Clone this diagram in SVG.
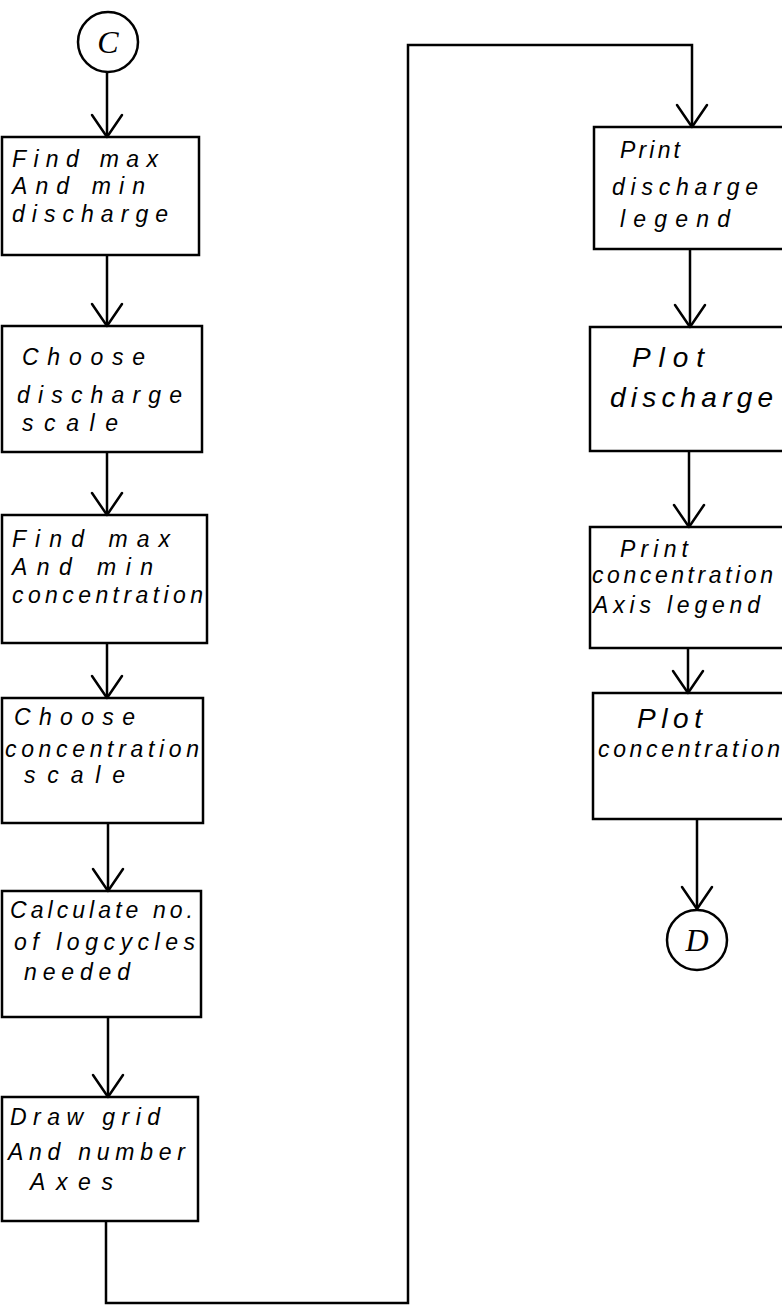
<svg xmlns="http://www.w3.org/2000/svg" width="782" height="1306" viewBox="0 0 782 1306">
<style>
.box{fill:none;stroke:#000;stroke-width:2.5}
.ln{fill:none;stroke:#000;stroke-width:2.5;stroke-linejoin:miter}
.hd{fill:none;stroke:#000;stroke-width:2.5;stroke-linecap:round;stroke-linejoin:round}
text{font-family:"Liberation Sans","DejaVu Sans",sans-serif;font-style:italic;font-size:23px;fill:#000}
.big{font-size:28px}
.circ{fill:#fff;stroke:#000;stroke-width:2.5}
.lbl{font-family:"Liberation Serif",serif;font-size:32px;font-style:italic}
</style>
<defs>
<path id="v" class="hd" d="M-15,-22 L0,0 L15,-22"/>
</defs>
<g id="connectors">
<path class="ln" d="M107,72 V137"/><use href="#v" x="107" y="137"/>
<path class="ln" d="M107,255 V326"/><use href="#v" x="107" y="326"/>
<path class="ln" d="M107,452 V515"/><use href="#v" x="107" y="515"/>
<path class="ln" d="M107,643 V698"/><use href="#v" x="107" y="698"/>
<path class="ln" d="M108,823 V891"/><use href="#v" x="108" y="891"/>
<path class="ln" d="M108,1017 V1097"/><use href="#v" x="108" y="1097"/>
<path class="ln" d="M106,1221 V1303 H408 V45 H692 V127"/><use href="#v" x="692" y="127"/>
<path class="ln" d="M690,249 V327"/><use href="#v" x="690" y="327"/>
<path class="ln" d="M689,451 V527"/><use href="#v" x="689" y="527"/>
<path class="ln" d="M688,648 V693"/><use href="#v" x="688" y="693"/>
<path class="ln" d="M697,819 V909"/><use href="#v" x="697" y="909"/>
</g>
<g id="startC">
<circle class="circ" cx="108" cy="42" r="30"/>
<text class="lbl" x="108" y="53" text-anchor="middle">C</text>
</g>
<g id="n1">
<rect class="box" x="2" y="137" width="197" height="118"/>
<text x="12" y="167" textLength="146" lengthAdjust="spacing">Find max</text>
<text x="12" y="194" textLength="133" lengthAdjust="spacing">And min</text>
<text x="12" y="222" textLength="156" lengthAdjust="spacing">discharge</text>
</g>
<g id="n2">
<rect class="box" x="2" y="326" width="200" height="126"/>
<text x="22" y="365" textLength="123" lengthAdjust="spacing">Choose</text>
<text x="17" y="403" textLength="165" lengthAdjust="spacing">discharge</text>
<text x="22" y="431" textLength="96" lengthAdjust="spacing">scale</text>
</g>
<g id="n3">
<rect class="box" x="2" y="515" width="205" height="128"/>
<text x="12" y="547" textLength="158" lengthAdjust="spacing">Find max</text>
<text x="12" y="575" textLength="141" lengthAdjust="spacing">And min</text>
<text x="12" y="603" textLength="191" lengthAdjust="spacing">concentration</text>
</g>
<g id="n4">
<rect class="box" x="2" y="698" width="201" height="125"/>
<text x="14" y="725" textLength="121" lengthAdjust="spacing">Choose</text>
<text x="5" y="757" textLength="194" lengthAdjust="spacing">concentration</text>
<text x="24" y="783" textLength="101" lengthAdjust="spacing">scale</text>
</g>
<g id="n5">
<rect class="box" x="2" y="891" width="199" height="126"/>
<text x="10" y="918" textLength="183" lengthAdjust="spacing">Calculate no.</text>
<text x="14" y="950" textLength="181" lengthAdjust="spacing">of logcycles</text>
<text x="24" y="980" textLength="106" lengthAdjust="spacing">needed</text>
</g>
<g id="n6">
<rect class="box" x="2" y="1097" width="196" height="124"/>
<text x="10" y="1125" textLength="150" lengthAdjust="spacing">Draw grid</text>
<text x="8" y="1160" textLength="177" lengthAdjust="spacing">And number</text>
<text x="30" y="1190" textLength="83" lengthAdjust="spacing">Axes</text>
</g>
<g id="r1">
<rect class="box" x="594" y="127" width="190" height="122"/>
<text x="620" y="158" textLength="60" lengthAdjust="spacing">Print</text>
<text x="612" y="195" textLength="146" lengthAdjust="spacing">discharge</text>
<text x="620" y="227" textLength="110" lengthAdjust="spacing">legend</text>
</g>
<g id="r2">
<rect class="box" x="590" y="327" width="194" height="124"/>
<text class="big" x="632" y="367" textLength="72" lengthAdjust="spacing">Plot</text>
<text class="big" x="610" y="407" textLength="163" lengthAdjust="spacing">discharge</text>
</g>
<g id="r3">
<rect class="box" x="590" y="527" width="194" height="121"/>
<text x="620" y="557" textLength="68" lengthAdjust="spacing">Print</text>
<text x="592" y="583" textLength="181" lengthAdjust="spacing">concentration</text>
<text x="593" y="613" textLength="167" lengthAdjust="spacing">Axis legend</text>
</g>
<g id="r4">
<rect class="box" x="593" y="693" width="191" height="126"/>
<text class="big" x="637" y="728" textLength="65" lengthAdjust="spacing">Plot</text>
<text x="598" y="757" textLength="182" lengthAdjust="spacing">concentration</text>
</g>
<g id="endD">
<circle class="circ" cx="697" cy="940" r="30"/>
<text class="lbl" x="697" y="951" text-anchor="middle">D</text>
</g>
</svg>
